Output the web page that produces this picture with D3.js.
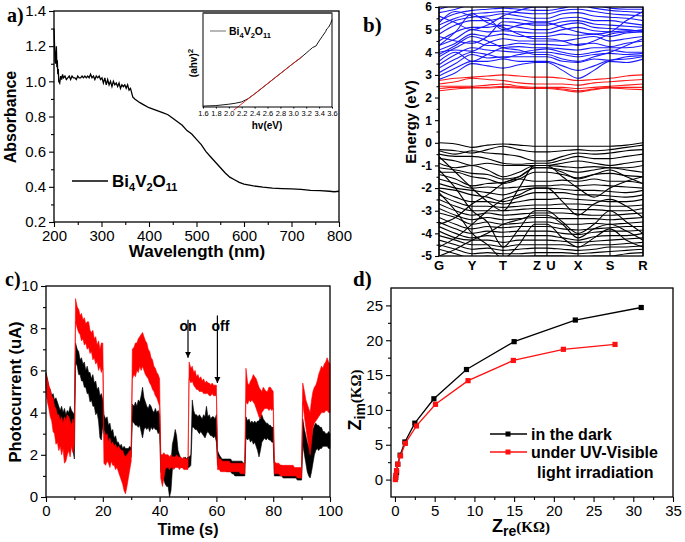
<!DOCTYPE html>
<html><head><meta charset="utf-8">
<script src="https://cdn.jsdelivr.net/npm/d3@7"></script>
<style>body{margin:0;background:#fff}svg{display:block}</style>
</head><body>
<svg id="chart" width="685" height="542"></svg>
<script>
// ---------- Panel a: absorbance ----------
const absWl = [200,201,202,203,204,205,206,207,208,209,210,212,214,216,218,220,223,226,229,232,235,238,241,244,247,250,253,256,259,262,265,268,271,274,277,280,283,286,289,292,295,298,301,304,307,310,313,316,319,322,325,328,331,334,337,340,343,346,349,352,355,358,361,364,366,368,370,375,380,390,400,410,420,430,440,450,460,470,480,490,500,510,520,530,540,550,560,570,580,590,600,620,640,660,680,700,720,740,760,780,790,800];
const absVal = [1.30,1.22,1.12,1.10,1.15,1.20,1.08,1.12,1.04,1.07,1.00,0.99,1.03,1.01,1.04,1.02,1.03,1.01,1.02,1.03,1.01,1.03,1.02,1.02,1.01,1.03,1.02,1.02,1.03,1.02,1.03,1.02,1.03,1.02,1.04,1.02,1.03,1.01,1.03,1.02,1.03,1.01,1.02,0.99,1.02,0.98,1.01,0.98,1.00,0.97,1.00,0.98,0.99,0.97,0.99,0.96,0.98,0.97,0.98,0.96,0.98,0.95,0.96,0.93,0.91,0.905,0.90,0.89,0.88,0.865,0.85,0.84,0.83,0.82,0.81,0.79,0.77,0.75,0.72,0.70,0.67,0.64,0.60,0.57,0.54,0.51,0.48,0.455,0.44,0.425,0.415,0.405,0.398,0.393,0.39,0.388,0.385,0.38,0.378,0.375,0.372,0.375];
const aXTicks = [200,300,400,500,600,700,800];
const aXMinor = [250,350,450,550,650,750];
const aYTicks = [0.2,0.4,0.6,0.8,1.0,1.2,1.4];
const aYMinor = [0.3,0.5,0.7,0.9,1.1,1.3];
// inset (Tauc plot)
const insetHv = [1.6,1.8,2.0,2.1,2.2,2.3,2.4,2.5,2.6,2.7,2.8,2.9,3.0,3.1,3.2,3.25,3.3,3.35,3.4,3.45,3.5,3.52,3.55,3.58,3.6];
const insetVal = [0.01,0.015,0.03,0.04,0.055,0.09,0.14,0.195,0.25,0.305,0.36,0.415,0.47,0.52,0.58,0.61,0.64,0.655,0.71,0.76,0.81,0.84,0.86,0.9,0.94];
const insetFitHv = [2.075,3.13];
const insetFitVal = [-0.035,0.54];
const insetTicks = [1.6,1.8,2.0,2.2,2.4,2.6,2.8,3.0,3.2,3.4,3.6];

// ---------- Panel b: band structure ----------
const kLabels = ['G','Y','T','Z','U','X','S','R'];
const kPos = [0,33,64,96,108,139,171,204];
const kSample = [0,16.5,33,48.5,64,80,96,108,123.5,139,155,171,187.5,204];
const bYTicks = [-5,-4,-3,-2,-1,0,1,2,3,4,5,6];
const bYMinor = [-4.5,-3.5,-2.5,-1.5,-0.5,0.5,1.5,2.5,3.5,4.5,5.5];
const bandsBlue = [
 [2.8,3.1,3.5,3.4,3.3,3.45,3.55,3.55,3.2,2.85,3.2,3.6,3.55,3.7],
 [2.95,3.3,3.6,3.6,3.7,3.6,3.6,3.6,3.4,3.2,3.4,3.65,3.7,3.8],
 [3.1,3.5,3.9,3.75,3.8,3.8,3.8,3.8,3.6,3.55,3.7,3.65,3.8,3.85],
 [3.3,3.7,4.0,3.9,3.75,3.9,4.0,4.0,3.9,3.8,3.9,3.95,3.9,3.95],
 [3.45,3.9,4.2,4.1,4.05,4.0,4.1,4.15,4.0,3.9,4.0,4.1,4.0,4.0],
 [3.6,4.0,3.6,3.9,4.2,4.25,4.2,4.2,4.15,4.1,4.2,4.2,4.2,4.3],
 [3.8,4.2,4.5,4.3,4.3,4.4,4.35,4.35,4.3,4.35,4.4,4.25,4.4,4.5],
 [4.0,4.1,4.05,4.4,4.6,4.5,4.5,4.5,4.5,4.6,4.7,4.5,4.6,4.7],
 [4.1,4.4,4.8,4.7,4.8,4.7,4.7,4.7,4.8,4.75,4.8,4.7,4.85,4.9],
 [4.3,4.6,5.0,4.9,4.95,4.9,4.85,4.85,5.0,5.1,4.95,4.9,4.95,4.95],
 [4.5,4.9,5.1,5.1,5.2,5.1,5.0,5.0,5.2,5.3,5.1,5.05,5.0,4.9],
 [4.7,4.5,4.4,4.7,5.35,5.3,5.2,5.2,5.35,5.4,5.25,5.2,5.15,5.1],
 [4.8,5.2,5.4,5.4,5.5,5.45,5.35,5.35,5.5,5.55,5.4,5.4,5.3,5.2],
 [5.0,5.4,5.55,5.6,5.7,5.6,5.5,5.5,5.7,5.75,5.6,5.55,5.5,5.4],
 [5.2,5.5,5.7,5.75,5.8,5.75,5.7,5.7,5.85,5.9,5.8,5.7,5.65,5.6],
 [5.4,5.7,5.85,5.9,5.95,5.9,5.85,5.85,5.95,6.1,5.95,5.85,5.8,5.75],
 [5.6,5.3,5.0,5.2,5.6,5.85,6.0,6.0,6.2,6.3,6.1,5.95,5.9,5.9],
 [5.75,5.9,6.1,6.1,6.2,6.1,6.1,6.1,6.3,6.4,6.3,6.1,6.0,6.0],
 [5.9,6.1,6.2,6.3,6.4,6.3,6.2,6.2,6.4,6.5,6.4,6.3,6.2,6.1],
 [3.9,4.3,4.7,4.5,4.2,4.1,3.9,3.9,3.7,3.6,3.8,4.0,4.3,4.6],
 [4.3,4.9,5.7,5.3,5.1,4.8,4.6,4.6,4.5,4.3,4.5,4.8,4.9,5.0],
 [5.3,5.8,5.6,5.5,5.0,5.2,5.3,5.3,5.1,4.9,4.8,4.9,5.4,5.8]
];
const bandsRed = [
 [2.75,2.85,2.9,2.95,3.0,2.95,2.9,2.9,2.85,2.75,2.8,2.85,2.95,3.0],
 [2.6,2.7,2.85,2.8,2.75,2.65,2.6,2.6,2.6,2.55,2.65,2.7,2.75,2.8],
 [2.5,2.5,2.5,2.55,2.6,2.5,2.45,2.45,2.45,2.4,2.45,2.5,2.55,2.6],
 [2.4,2.45,2.45,2.45,2.5,2.45,2.42,2.42,2.38,2.3,2.38,2.45,2.45,2.45],
 [2.3,2.38,2.42,2.42,2.45,2.42,2.4,2.4,2.33,2.25,2.35,2.42,2.38,2.35]
];
const bandsBlack = [
 [0,-0.05,-0.2,-0.1,-0.05,-0.1,-0.15,-0.15,-0.15,-0.15,-0.15,-0.15,-0.1,0],
 [-0.3,-0.35,-0.45,-0.3,-0.15,-0.3,-0.4,-0.4,-0.35,-0.3,-0.35,-0.3,-0.2,-0.1],
 [-0.35,-0.5,-0.35,-0.45,-0.5,-0.6,-0.8,-0.8,-0.6,-0.45,-0.5,-0.45,-0.35,-0.3],
 [-0.5,-0.6,-0.6,-0.7,-0.9,-0.95,-0.9,-0.9,-0.75,-0.6,-0.7,-0.7,-0.6,-0.5],
 [-0.7,-0.8,-1.0,-0.9,-1.0,-1.0,-1.0,-1.0,-0.9,-0.8,-0.9,-1.0,-0.9,-0.8],
 [-0.9,-1.1,-1.0,-1.2,-1.5,-1.3,-1.0,-1.0,-1.05,-1.1,-1.05,-1.1,-1.1,-1.0],
 [-1.1,-1.2,-1.35,-1.4,-1.6,-1.5,-1.1,-1.1,-1.2,-1.3,-1.2,-1.1,-1.2,-1.3],
 [-1.3,-1.3,-1.5,-1.6,-1.8,-1.6,-1.3,-1.3,-1.4,-1.55,-1.4,-1.35,-1.45,-1.5],
 [-1.4,-1.6,-1.9,-1.8,-1.75,-1.6,-1.7,-1.7,-1.65,-1.7,-1.6,-1.7,-1.7,-1.8],
 [-1.6,-1.8,-2.0,-1.95,-2.0,-1.95,-1.9,-1.9,-1.85,-1.9,-1.85,-1.9,-1.95,-2.0],
 [-1.8,-2.0,-2.1,-2.2,-2.3,-2.1,-2.0,-2.0,-2.05,-2.1,-2.1,-2.15,-2.2,-2.1],
 [-2.0,-2.1,-2.3,-2.4,-2.6,-2.4,-2.2,-2.2,-2.2,-2.3,-2.3,-2.35,-2.4,-2.3],
 [-2.1,-2.4,-2.6,-2.6,-2.7,-2.6,-2.5,-2.5,-2.45,-2.5,-2.55,-2.6,-2.6,-2.5],
 [-2.3,-2.6,-2.8,-2.8,-2.85,-2.8,-2.75,-2.75,-2.7,-2.7,-2.75,-2.8,-2.8,-2.75],
 [-2.5,-2.8,-3.0,-3.0,-3.0,-2.95,-2.9,-2.9,-2.9,-2.95,-2.95,-3.0,-3.0,-2.9],
 [-2.7,-3.0,-3.2,-3.1,-3.2,-3.15,-3.1,-3.1,-3.1,-3.15,-3.2,-3.2,-3.15,-3.1],
 [-2.9,-3.2,-3.4,-3.3,-3.4,-3.35,-3.3,-3.3,-3.35,-3.35,-3.35,-3.4,-3.35,-3.3],
 [-3.1,-3.3,-3.6,-3.5,-3.6,-3.55,-3.5,-3.5,-3.6,-3.6,-3.55,-3.6,-3.55,-3.5],
 [-3.3,-3.6,-3.8,-3.7,-3.75,-3.7,-3.7,-3.7,-3.8,-3.85,-3.8,-3.75,-3.7,-3.7],
 [-3.5,-3.8,-4.0,-3.9,-3.95,-3.9,-3.9,-3.9,-4.0,-4.05,-3.95,-3.9,-3.9,-3.85],
 [-3.7,-4.0,-4.2,-4.1,-4.15,-4.1,-4.1,-4.1,-4.2,-4.3,-4.15,-4.1,-4.1,-4.0],
 [-3.9,-4.2,-4.3,-4.3,-4.4,-4.3,-4.3,-4.3,-4.35,-4.4,-4.35,-4.3,-4.25,-4.2],
 [-4.1,-4.3,-4.5,-4.5,-4.6,-4.5,-4.5,-4.5,-4.5,-4.6,-4.5,-4.5,-4.45,-4.4],
 [-4.3,-4.5,-4.7,-4.65,-4.75,-4.7,-4.65,-4.65,-4.7,-4.75,-4.7,-4.6,-4.6,-4.55],
 [-4.5,-4.7,-4.9,-4.85,-4.9,-4.9,-4.85,-4.85,-4.85,-4.9,-4.85,-4.8,-4.75,-4.7],
 [-4.7,-4.9,-5.1,-5.0,-5.1,-5.05,-5.0,-5.0,-5.0,-5.1,-5.0,-5.0,-4.9,-4.85],
 [-0.6,-1.3,-2.0,-2.6,-3.0,-2.0,-1.0,-1.0,-1.5,-2.0,-2.4,-2.0,-1.7,-1.5],
 [-1.2,-2.0,-3.0,-3.5,-4.6,-3.8,-3.0,-3.0,-3.5,-4.0,-3.6,-3.0,-3.5,-4.0],
 [-2.2,-3.0,-4.0,-4.5,-5.1,-4.5,-3.6,-3.6,-4.2,-4.6,-4.2,-3.8,-4.3,-4.6],
 [-4.6,-4.2,-3.6,-3.0,-2.5,-2.3,-2.0,-2.0,-2.6,-3.2,-2.7,-2.5,-2.8,-3.3],
 [-3.6,-3.3,-2.7,-2.3,-1.8,-1.5,-1.1,-1.1,-1.3,-1.6,-1.4,-1.2,-1.5,-1.8],
 [-5.0,-4.7,-4.3,-4.0,-3.6,-3.4,-3.2,-3.2,-3.6,-4.2,-3.8,-3.6,-3.9,-4.3]
];

// ---------- Panel c: photocurrent (noise envelopes, sampled every 0.5 s) ----------
const cTime = [0,0.5,1,1.5,2,2.5,3,3.5,4,4.5,5,5.5,6,6.5,7,7.5,8,8.5,9,9.5,10,
 10.4,11,11.5,12,12.5,13,13.5,14,14.5,15,15.5,16,16.5,17,17.5,18,18.5,19,19.5,20,
 20.4,21,21.5,22,22.5,23,23.5,24,24.5,25,25.5,26,26.5,27,27.5,28,28.5,29,29.5,30,
 30.4,31,31.5,32,32.5,33,33.5,34,34.5,35,35.5,36,36.5,37,37.5,38,38.5,39,39.5,40,
 40.4,41,41.5,42,42.5,43,43.5,44,44.5,45,45.5,46,46.5,47,47.5,48,48.5,49,49.5,50,
 50.4,51,51.5,52,52.5,53,53.5,54,54.5,55,55.5,56,56.5,57,57.5,58,58.5,59,59.5,60,
 60.4,61,61.5,62,62.5,63,63.5,64,64.5,65,65.5,66,66.5,67,67.5,68,68.5,69,69.5,70,
 70.4,71,71.5,72,72.5,73,73.5,74,74.5,75,75.5,76,76.5,77,77.5,78,78.5,79,79.5,80,
 80.4,81,81.5,82,82.5,83,83.5,84,84.5,85,85.5,86,86.5,87,87.5,88,88.5,89,89.5,90,
 90.4,91,91.5,92,92.5,93,93.5,94,94.5,95,95.5,96,96.5,97,97.5,98,98.5,99,99.5,100];
const cBlackLow = [5.2,4.8,4.6,4.2,4.0,3.5,3.6,3.1,3.2,2.9,3.1,2.8,3.0,2.6,2.9,2.5,2.8,2.4,2.7,2.2,1.8,
 6.4,6.2,5.8,5.8,5.5,5.5,5.2,5.2,4.9,4.9,4.5,4.6,4.3,4.3,3.9,4.0,3.6,2.8,2.7,3.4,
 3.0,2.9,2.7,2.6,2.4,2.3,2.2,2.1,2.0,1.9,2.0,1.9,1.9,1.9,1.8,1.9,1.9,1.9,1.8,1.9,
 3.6,3.5,3.4,3.4,3.3,3.4,3.1,2.8,3.2,3.3,3.2,3.3,3.1,3.3,3.2,3.3,3.2,3.2,3.0,3.1,
 1.2,1.0,0.8,0.6,0.5,0.5,0.0,0.3,1.3,1.6,1.8,1.7,1.5,1.5,1.4,1.4,1.4,1.4,1.4,1.4,
 1.4,1.5,3.3,3.3,3.2,3.2,3.1,3.0,3.1,3.0,2.9,2.8,3.0,3.1,3.0,2.9,2.9,2.8,2.9,2.6,
 1.5,1.5,1.4,1.4,1.3,1.3,1.2,1.2,1.2,1.2,1.1,1.1,1.0,1.0,1.0,1.0,1.0,1.0,1.0,1.0,
 2.8,2.7,2.8,2.6,2.7,2.5,2.6,2.4,2.2,1.9,2.2,2.6,2.7,2.8,2.7,2.8,2.7,2.7,2.6,2.6,
 1.0,1.0,1.0,1.0,1.0,1.0,0.9,0.9,0.9,0.9,0.9,0.9,0.9,0.9,0.9,0.9,0.8,0.8,0.8,0.8,
 2.5,2.0,1.6,1.2,1.0,0.9,1.2,1.6,2.0,2.2,2.3,2.2,2.3,2.3,2.4,2.4,2.4,2.4,2.3,2.3];
const cBlackHigh = [5.9,5.6,5.2,5.1,4.8,4.9,4.6,4.7,4.5,4.3,4.1,4.3,4.0,4.2,3.9,4.1,4.0,4.3,4.1,4.0,3.9,
 7.3,7.0,6.9,6.5,6.6,6.3,6.4,6.0,6.2,5.9,5.9,5.6,5.8,5.4,5.5,5.1,5.2,4.8,4.9,4.6,
 3.9,3.7,3.8,3.4,3.5,3.1,3.2,2.8,2.9,2.6,2.6,2.4,2.5,2.3,2.4,2.3,2.3,2.3,2.4,2.3,
 4.4,4.3,4.5,4.3,4.6,4.5,4.8,5.2,4.7,4.5,4.3,4.2,4.4,4.3,4.1,4.0,4.2,4.0,4.1,3.9,
 2.0,1.9,1.9,1.8,1.8,1.8,1.4,1.6,2.5,2.8,3.2,2.9,2.2,2.0,1.8,1.8,1.8,1.9,1.8,1.9,
 1.9,2.0,4.6,4.1,3.9,3.9,3.8,3.9,3.8,3.7,3.9,3.8,4.3,3.8,3.9,3.7,3.8,3.8,3.7,3.9,
 2.2,2.0,1.9,1.8,1.8,1.8,1.8,1.8,1.8,1.8,1.7,1.7,1.7,1.7,1.7,1.7,1.7,1.7,1.6,1.6,
 3.8,3.6,3.7,3.5,3.6,3.5,3.6,3.5,3.6,3.6,3.8,3.9,3.7,3.6,3.5,3.5,3.4,3.4,3.3,3.3,
 1.6,1.5,1.5,1.5,1.5,1.5,1.4,1.4,1.4,1.4,1.4,1.4,1.4,1.4,1.3,1.3,1.3,1.3,1.2,1.2,
 3.7,3.2,2.9,2.6,2.4,2.3,2.8,3.2,3.4,3.5,3.4,3.4,3.3,3.3,3.1,3.1,3.0,3.0,3.1,3.0];
const cRedLow = [5.0,4.5,4.2,3.8,3.6,3.1,3.0,2.5,2.6,2.2,2.4,2.0,2.3,1.6,1.7,2.0,2.2,1.9,2.4,2.1,2.5,
 8.3,8.0,7.8,7.7,7.4,7.5,7.2,7.3,7.0,7.1,6.8,6.9,6.5,6.6,6.3,6.4,6.0,6.2,5.9,6.1,
 1.6,1.5,1.7,1.6,1.4,1.7,1.5,1.5,1.3,1.4,1.2,1.0,0.8,0.6,0.3,0.15,0.5,0.9,1.3,1.7,
 5.6,5.8,5.7,6.0,5.9,6.2,6.0,6.2,6.0,5.8,5.7,5.6,5.4,5.3,5.1,5.0,4.8,4.7,4.5,4.3,
 0.9,0.5,0.9,1.3,1.4,1.4,1.3,1.4,1.4,1.3,1.4,1.4,1.4,1.3,1.4,1.4,1.3,1.3,1.3,1.3,
 5.6,5.4,5.5,5.3,5.2,5.1,5.1,5.0,5.0,5.0,4.9,4.9,4.9,4.9,4.8,4.8,4.9,4.8,4.8,4.8,
 1.3,1.3,1.2,1.2,1.2,1.2,1.2,1.2,1.2,1.2,1.2,1.2,1.2,1.2,1.2,1.2,1.1,1.1,1.1,1.1,
 4.5,4.4,4.6,4.5,4.6,4.5,4.4,4.2,4.0,3.8,3.7,4.0,4.1,4.2,4.2,4.2,4.1,4.2,4.1,4.2,
 1.1,1.1,1.1,1.1,1.0,1.0,1.0,1.0,1.0,1.0,1.0,1.0,1.0,1.0,1.0,1.0,0.9,0.9,0.9,0.9,
 4.5,3.8,3.3,2.8,2.4,2.0,2.6,3.3,3.5,3.6,3.7,3.8,3.9,4.0,4.0,4.0,4.1,4.1,4.0,4.0];
const cRedHigh = [5.8,5.6,5.3,5.1,4.8,4.7,4.3,4.2,3.9,3.9,3.6,3.8,3.5,3.8,3.6,3.9,3.8,3.6,3.4,3.7,3.4,
 9.4,9.0,8.9,8.6,8.7,8.4,8.5,8.2,8.3,8.3,7.9,7.8,7.9,7.5,7.6,7.2,7.4,7.0,7.3,7.3,
 3.2,2.9,3.0,2.6,2.8,2.5,2.6,2.4,2.5,2.3,2.4,2.3,2.2,2.2,2.0,1.9,2.0,2.1,2.2,2.2,
 7.0,7.1,7.3,7.3,7.5,7.6,7.7,7.8,7.6,7.4,7.3,7.0,6.9,6.6,6.5,6.2,6.1,5.9,5.8,5.6,
 2.0,2.0,2.1,2.0,2.0,2.0,1.9,2.0,1.9,1.9,1.9,2.0,1.9,1.9,1.9,1.8,1.9,1.8,1.8,1.8,
 6.4,6.1,6.2,5.9,6.0,5.7,5.8,5.6,5.7,5.5,5.6,5.4,5.5,5.4,5.4,5.3,5.4,5.3,5.3,5.3,
 2.0,1.8,1.8,1.7,1.7,1.7,1.7,1.7,1.7,1.6,1.6,1.6,1.6,1.6,1.6,1.6,1.6,1.6,1.6,1.6,
 6.1,5.4,5.3,5.5,5.6,5.8,5.7,5.6,5.4,5.2,5.1,5.0,5.2,5.1,5.0,5.0,5.2,5.2,5.1,5.0,
 1.7,1.6,1.6,1.6,1.5,1.5,1.5,1.5,1.5,1.5,1.5,1.5,1.5,1.5,1.4,1.4,1.4,1.4,1.4,1.4,
 5.4,5.0,4.6,4.4,4.2,4.0,4.6,5.0,5.2,5.3,5.5,5.8,6.0,6.2,6.1,6.3,6.4,6.6,6.4,6.3];
const cXTicks = [0,20,40,60,80,100];
const cXMinor = [10,30,50,70,90];
const cYTicks = [0,2,4,6,8,10];
const cYMinor = [1,3,5,7,9];
const cNotes = [{t:50, label:'on', from:8.4, to:6.6},{t:60, label:'off', from:8.6, to:5.4}];

// ---------- Panel d: Nyquist ----------
const dDarkX = [0.1,0.2,0.35,0.65,1.25,2.5,4.9,9.0,15.0,22.7,31.0];
const dDarkY = [0.3,1.0,2.2,3.5,5.4,8.1,11.6,15.8,19.8,22.9,24.7];
const dLightX = [0.05,0.1,0.2,0.35,0.7,1.3,2.7,5.1,9.2,14.9,21.2,27.7];
const dLightY = [0.0,0.6,1.3,2.2,3.4,5.2,7.7,10.8,14.2,17.1,18.7,19.4];
const dXTicks = [0,5,10,15,20,25,30,35];
const dXMinor = [2.5,7.5,12.5,17.5,22.5,27.5,32.5];
const dYTicks = [0,5,10,15,20,25];
const dYMinor = [2.5,7.5,12.5,17.5,22.5];
const dSeries = ['in the dark','under UV-Visible','light irradiation'];

[cBlackLow,cBlackHigh,cRedLow,cRedHigh].forEach((a,i)=>{
  if (a.length !== cTime.length) throw new Error('panel c array '+i+' length '+a.length+' vs '+cTime.length);
});

// ================= drawing =================
const SANS = "'Liberation Sans', Arial, Helvetica, sans-serif";
const SERIF = "'Liberation Serif', 'Times New Roman', serif";
const svg = d3.select('#chart');
svg.append('rect').attr('width',685).attr('height',542).attr('fill','#fff');

function fmtNum(d){ return String(d); }

function axes(g, x, y, o) {
  const [x0,x1] = x.range(), [y0,y1] = y.range();
  const fs = o.fs || 15, fw = o.bold ? 'bold' : 'normal';
  if (o.xMajor) {
    const ax = g.append('g').attr('transform',`translate(0,${y0})`)
      .call(d3.axisBottom(x).tickValues(o.xMajor).tickSize(o.major||5).tickPadding(3).tickFormat(o.xFmt || fmtNum));
    ax.select('.domain').remove();
    ax.selectAll('text').attr('font-size',fs).attr('font-family',SANS).attr('font-weight',fw).attr('fill','#000');
    if (o.xMinor) {
      const mx = g.append('g').attr('transform',`translate(0,${y0})`)
        .call(d3.axisBottom(x).tickValues(o.xMinor).tickSize(o.minor||3).tickFormat(''));
      mx.select('.domain').remove();
    }
  }
  if (o.yMajor) {
    const ay = g.append('g').attr('transform',`translate(${x0},0)`)
      .call(d3.axisLeft(y).tickValues(o.yMajor).tickSize(o.major||5).tickPadding(3).tickFormat(o.yFmt || fmtNum));
    ay.select('.domain').remove();
    ay.selectAll('text').attr('font-size',fs).attr('font-family',SANS).attr('font-weight',fw).attr('fill','#000');
    if (o.yMinor) {
      const my = g.append('g').attr('transform',`translate(${x0},0)`)
        .call(d3.axisLeft(y).tickValues(o.yMinor).tickSize(o.minor||3).tickFormat(''));
      my.select('.domain').remove();
    }
  }
  g.selectAll('.tick line').attr('stroke','#000').attr('stroke-width',1.1);
  g.append('rect').attr('x',x0).attr('y',y1).attr('width',x1-x0).attr('height',y0-y1)
    .attr('fill','none').attr('stroke','#000').attr('stroke-width',o.frame||1.3);
}

function txt(g, x, y, s, o={}) {
  return g.append('text').attr('x',x).attr('y',y).text(s)
    .attr('font-family',o.family||SANS).attr('font-size',o.fs||16)
    .attr('font-weight',o.fw||'bold').attr('text-anchor',o.anchor||'start').attr('fill',o.fill||'#000');
}
function vtxt(g, cx, cy, s, o={}) {
  return g.append('text').attr('transform',`translate(${cx},${cy}) rotate(-90)`).text(s)
    .attr('font-family',o.family||SANS).attr('font-size',o.fs||16)
    .attr('font-weight',o.fw||'bold').attr('text-anchor','middle').attr('fill','#000');
}

// ---------- Panel a ----------
{
  const g = svg.append('g');
  const x = d3.scaleLinear([200,800],[54,339]);
  const y = d3.scaleLinear([0.2,1.4],[222,11]);
  g.append('path').datum(absWl.map((w,i)=>[w,absVal[i]]))
    .attr('d', d3.line().x(d=>x(d[0])).y(d=>y(d[1])))
    .attr('fill','none').attr('stroke','#000').attr('stroke-width',1.3);
  axes(g, x, y, {xMajor:aXTicks, xMinor:aXMinor, yMajor:aYTicks, yMinor:aYMinor,
    yFmt:d3.format('.1f'), xFmt:d=>String(d), fs:15});
  txt(g, 7, 22, 'a)', {family:SERIF, fs:20});
  vtxt(g, 16, 117, 'Absorbance', {fs:16});
  txt(g, 197, 257, 'Wavelength (nm)', {fs:17, anchor:'middle'});
  g.append('line').attr('x1',72).attr('x2',108).attr('y1',181).attr('y2',181).attr('stroke','#000').attr('stroke-width',1.3);
  const lt = txt(g, 112, 187, 'Bi', {fs:17});
  lt.append('tspan').text('4').attr('font-size',11).attr('dy',4);
  lt.append('tspan').text('V').attr('dy',-4);
  lt.append('tspan').text('2').attr('font-size',11).attr('dy',4);
  lt.append('tspan').text('O').attr('dy',-4);
  lt.append('tspan').text('11').attr('font-size',11).attr('dy',4);

  // inset
  const gi = svg.append('g');
  const xi = d3.scaleLinear([1.6,3.6],[203,332]);
  const yi = d3.scaleLinear([0,1],[107,14]);
  gi.append('rect').attr('x',203).attr('y',13).attr('width',129).attr('height',94).attr('fill','#fff');
  gi.append('path').datum(insetHv.map((h,i)=>[h,insetVal[i]]))
    .attr('d', d3.line().x(d=>xi(d[0])).y(d=>yi(d[1])))
    .attr('fill','none').attr('stroke','#000').attr('stroke-width',0.9);
  gi.append('path').datum(insetFitHv.map((h,i)=>[h,insetFitVal[i]]))
    .attr('d', d3.line().x(d=>xi(d[0])).y(d=>yi(d[1])))
    .attr('fill','none').attr('stroke','#e0201c').attr('stroke-width',0.9);
  const ia = gi.append('g').attr('transform','translate(0,107)')
    .call(d3.axisBottom(xi).tickValues(insetTicks).tickSize(1.5).tickPadding(2).tickFormat(d3.format('.1f')));
  ia.select('.domain').remove();
  ia.selectAll('text').attr('font-size',7.5).attr('font-family',SANS).attr('fill','#000');
  gi.append('rect').attr('x',203).attr('y',13).attr('width',129).attr('height',94)
    .attr('fill','none').attr('stroke','#000').attr('stroke-width',1);
  gi.append('line').attr('x1',203).attr('x2',332).attr('y1',13).attr('y2',13).attr('stroke','#555').attr('stroke-width',2.2);
  txt(gi, 267, 129, 'hv(eV)', {fs:10, anchor:'middle'});
  const yl = vtxt(gi, 197, 63, '(ahv)', {fs:10});
  yl.append('tspan').text('2').attr('font-size',8).attr('dy',-4);
  gi.append('line').attr('x1',210).attr('x2',226).attr('y1',31).attr('y2',31).attr('stroke','#888').attr('stroke-width',1.2);
  const il = txt(gi, 229, 35, 'Bi', {fs:10.5});
  il.append('tspan').text('4').attr('font-size',7.5).attr('dy',2.5);
  il.append('tspan').text('V').attr('dy',-2.5);
  il.append('tspan').text('2').attr('font-size',7.5).attr('dy',2.5);
  il.append('tspan').text('O').attr('dy',-2.5);
  il.append('tspan').text('11').attr('font-size',7.5).attr('dy',2.5);
}

// ---------- Panel b ----------
{
  const g = svg.append('g');
  const x = d3.scaleLinear([0,204],[439,643]);
  const y = d3.scaleLinear([-5,6],[256,7]);
  svg.append('clipPath').attr('id','clipB').append('rect').attr('x',439).attr('y',7).attr('width',204).attr('height',249);
  const gl = g.append('g').attr('clip-path','url(#clipB)');
  const line = d3.line().x((d,i)=>x(kSample[i])).y(d=>y(d)).curve(d3.curveMonotoneX);
  const drawSet = (bands, color) => gl.append('g').selectAll('path').data(bands).join('path')
      .attr('d', line).attr('fill','none').attr('stroke',color).attr('stroke-width',1.1);
  drawSet(bandsBlack, '#000');
  drawSet(bandsRed, '#ff1a1a');
  drawSet(bandsBlue, '#1a1aff');
  g.append('g').selectAll('line').data(kPos).join('line')
    .attr('x1',d=>x(d)).attr('x2',d=>x(d)).attr('y1',7).attr('y2',256)
    .attr('stroke','#000').attr('stroke-width',1.1);
  axes(g, x, y, {yMajor:bYTicks, yMinor:bYMinor, fs:12, bold:true, major:4, minor:2.5});
  g.append('g').selectAll('text').data(kLabels).join('text')
    .attr('x',(d,i)=>x(kPos[i]) + (d==='Z'?2:(d==='U'?4:0))).attr('y',270).text(d=>d)
    .attr('text-anchor','middle').attr('font-family',SANS).attr('font-weight','bold').attr('font-size',13);
  txt(g, 363, 32, 'b)', {family:SERIF, fs:21});
  vtxt(g, 416, 122, 'Energy (eV)', {fs:15});
}

// ---------- Panel c ----------
{
  const g = svg.append('g');
  const x = d3.scaleLinear([0,100],[46,330]);
  const y = d3.scaleLinear([0,10],[497,286]);
  const area = (lo,hi) => d3.area().x((d,i)=>x(cTime[i])).y0((d,i)=>y(lo[i])).y1((d,i)=>y(hi[i]));
  g.append('path').datum(cTime).attr('d', area(cBlackLow,cBlackHigh))
    .attr('fill','#000').attr('stroke','#000').attr('stroke-width',0.6);
  g.append('path').datum(cTime).attr('d', area(cRedLow,cRedHigh))
    .attr('fill','#ff0000').attr('stroke','#ff0000').attr('stroke-width',0.6);
  axes(g, x, y, {xMajor:cXTicks, xMinor:cXMinor, yMajor:cYTicks, yMinor:cYMinor, fs:15});
  txt(g, 5, 286, 'c)', {family:SERIF, fs:20});
  vtxt(g, 21, 392, 'Photocurrent (uA)', {fs:16.5});
  txt(g, 188, 535, 'Time (s)', {fs:16, anchor:'middle'});
  svg.append('defs').append('marker').attr('id','arr').attr('viewBox','0 0 10 10')
    .attr('refX',10).attr('refY',5).attr('markerWidth',6).attr('markerHeight',8).attr('orient','auto')
    .attr('markerUnits','userSpaceOnUse')
    .append('path').attr('d','M0,0 L10,5 L0,10 z').attr('fill','#000');
  cNotes.forEach((n,i) => {
    const xx = x(n.t) + (i===0 ? 0 : 1);
    txt(g, i===0 ? xx : xx+3, 331, n.label, {fs:14, anchor:'middle'});
    g.append('line').attr('x1',xx).attr('x2',xx).attr('y1',y(n.from)).attr('y2',y(n.to))
      .attr('stroke','#000').attr('stroke-width',1.2).attr('marker-end','url(#arr)');
  });
}

// ---------- Panel d ----------
{
  const g = svg.append('g');
  const x = d3.scaleLinear([-0.5,35],[391,673]);
  const y = d3.scaleLinear([-2.5,27.5],[497,288]);
  const series = [
    {xs:dDarkX, ys:dDarkY, color:'#000'},
    {xs:dLightX, ys:dLightY, color:'#ff1010'}
  ];
  series.forEach(s => {
    const pts = s.xs.map((v,i)=>[v,s.ys[i]]);
    g.append('path').datum(pts).attr('d', d3.line().x(d=>x(d[0])).y(d=>y(d[1])))
      .attr('fill','none').attr('stroke',s.color).attr('stroke-width',1.3);
    g.append('g').selectAll('rect').data(pts).join('rect')
      .attr('x',d=>x(d[0])-2.6).attr('y',d=>y(d[1])-2.6).attr('width',5.2).attr('height',5.2).attr('fill',s.color);
  });
  axes(g, x, y, {xMajor:dXTicks, xMinor:dXMinor, yMajor:dYTicks, yMinor:dYMinor, fs:15});
  txt(g, 353, 286, 'd)', {family:SERIF, fs:21});
  [[434,'#000'],[452,'#ff1010']].forEach(([ly,c]) => {
    g.append('line').attr('x1',490).attr('x2',527).attr('y1',ly).attr('y2',ly).attr('stroke',c).attr('stroke-width',1.3);
    g.append('rect').attr('x',505.5).attr('y',ly-2.5).attr('width',5).attr('height',5).attr('fill',c);
  });
  txt(g, 531, 440, dSeries[0], {fs:16});
  txt(g, 531, 458, dSeries[1], {fs:16});
  txt(g, 537, 478, dSeries[2], {fs:16});
  const xt = txt(g, 521, 532, 'Z', {fs:18, anchor:'middle'});
  xt.append('tspan').text('re').attr('font-size',14).attr('dy',4);
  xt.append('tspan').text('(KΩ)').attr('font-family',SERIF).attr('font-size',15).attr('dy',-4);
  const yt = vtxt(g, 361, 400, 'Z', {fs:18});
  yt.append('tspan').text('im').attr('font-size',14).attr('dy',4);
  yt.append('tspan').text('(KΩ)').attr('font-family',SERIF).attr('font-size',15).attr('dy',-4);
}
</script>
</body></html>
